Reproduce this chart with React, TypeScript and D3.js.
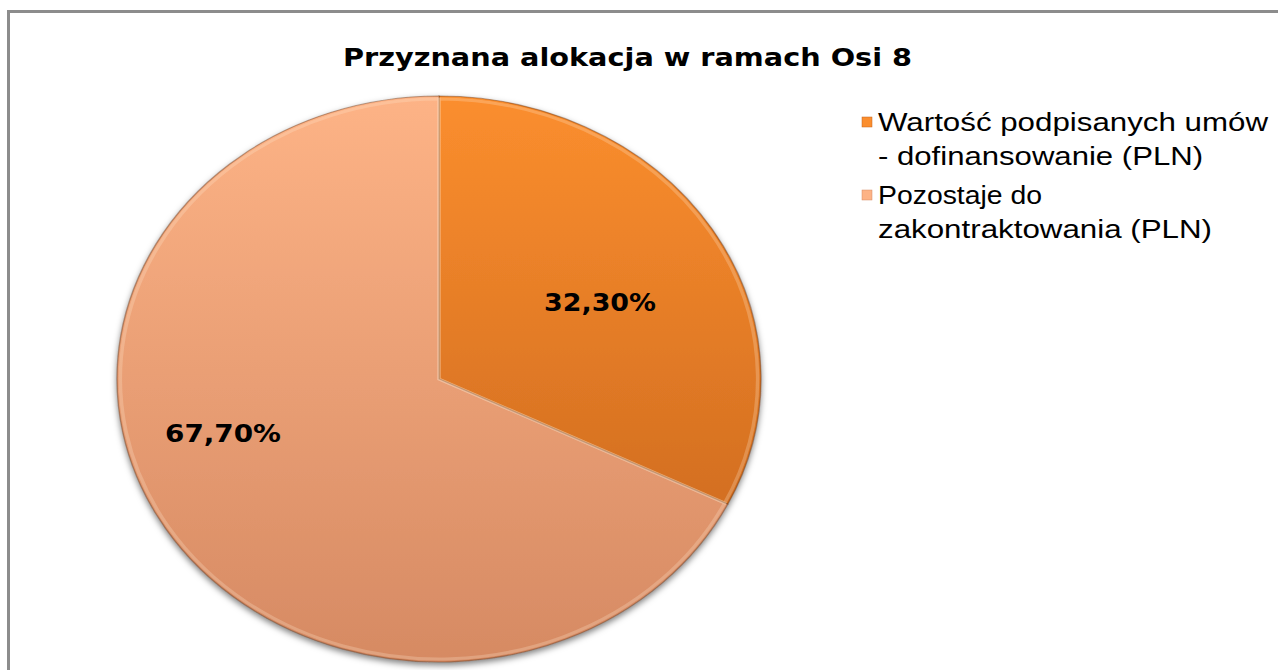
import React, { useEffect, useRef } from 'react';
import * as d3 from 'd3';

const title = 'Przyznana alokacja w ramach Osi 8';
const categories = ['Wartość podpisanych umów - dofinansowanie (PLN)', 'Pozostaje do zakontraktowania (PLN)'];
const legendLines = [['Wartość podpisanych umów', '- dofinansowanie (PLN)'], ['Pozostaje do', 'zakontraktowania (PLN)']];
const values = [32.3, 67.7];
const labels = ['32,30%', '67,70%'];
const colorsTop = ['#fb8e2e', '#fdb386'];
const colorsBottom = ['#c4631c', '#d68a63'];

export default function App() {
  const ref = useRef<SVGSVGElement>(null);

  useEffect(() => {
    const svg = d3.select(ref.current);
    svg.selectAll('*').remove();
    const W = 1278, H = 670;

    // frame (continues past right/bottom edge)
    svg.append('rect').attr('x', 8.5).attr('y', 11.5).attr('width', W + 20).attr('height', H + 20)
      .attr('fill', '#fff').attr('stroke', '#8c8c8c').attr('stroke-width', 3);

    const defs = svg.append('defs');
    values.forEach((_, i) => {
      const gr = defs.append('linearGradient').attr('id', `grad${i}`)
        .attr('gradientUnits', 'userSpaceOnUse').attr('x1', 0).attr('y1', -283).attr('x2', 0).attr('y2', 283);
      gr.append('stop').attr('offset', '0%').attr('stop-color', colorsTop[i]);
      gr.append('stop').attr('offset', '100%').attr('stop-color', colorsBottom[i]);
    });
    const f = defs.append('filter').attr('id', 'shadow').attr('x', '-10%').attr('y', '-10%').attr('width', '120%').attr('height', '120%');
    f.append('feDropShadow').attr('dx', 0).attr('dy', 3).attr('stdDeviation', 3).attr('flood-color', '#000').attr('flood-opacity', 0.5);

    // stretched text helper (the source image is widened horizontally)
    const stretch = (sel: any, w: number) => sel.attr('textLength', w).attr('lengthAdjust', 'spacingAndGlyphs');

    stretch(svg.append('text').attr('x', 343).attr('y', 66)
      .attr('font-family', 'DejaVu Sans').attr('font-weight', 'bold').attr('font-size', 25).attr('fill', '#000').text(title), 569);

    const cx = 439, cy = 379, rx = 322, ry = 283;
    const pie = d3.pie<number>().sort(null).value(d => d);
    const arcs = pie(values);
    const arc = d3.arc<d3.PieArcDatum<number>>().innerRadius(0).outerRadius(ry);

    const g = svg.append('g').attr('transform', `translate(${cx},${cy}) scale(${rx / ry},1)`);
    const slices = g.append('g').attr('filter', 'url(#shadow)');
    slices.selectAll('path').data(arcs).enter().append('path')
      .attr('d', arc).attr('fill', (d, i) => `url(#grad${i})`)
      .attr('stroke', 'rgba(90,40,10,0.4)').attr('stroke-width', 1.2);
    // soft bevel highlight along the edges
    g.append('g').selectAll('path').data(arcs).enter().append('path')
      .attr('d', d3.arc<d3.PieArcDatum<number>>().innerRadius(0).outerRadius(ry - 3))
      .attr('fill', 'none').attr('stroke', 'rgba(255,235,210,0.25)').attr('stroke-width', 3);

    // labels
    const lblPos = [[544, 311, 112], [165, 442, 116]];
    labels.forEach((t, i) => {
      stretch(svg.append('text').attr('x', lblPos[i][0]).attr('y', lblPos[i][1])
        .attr('font-family', 'DejaVu Sans').attr('font-weight', 'bold').attr('font-size', 24).attr('fill', '#000').text(t), lblPos[i][2]);
    });

    // legend
    const lineW = [[390, 325], [164, 334]];
    const lg = svg.append('g');
    legendLines.forEach((lines, i) => {
      const y0 = 122 + i * 73;
      lg.append('rect').attr('x', 862).attr('y', y0 - 5).attr('width', 10).attr('height', 10)
        .attr('stroke', colorsBottom[i]).attr('stroke-width', 0.5)
        .style('fill', colorsTop[i]);
      lines.forEach((ln, j) => {
        stretch(lg.append('text').attr('x', 878).attr('y', y0 + 9 + j * 34)
          .attr('font-family', 'Liberation Sans').attr('font-size', 25).attr('fill', '#000').text(ln), lineW[i][j]);
      });
    });
  }, []);

  return <svg ref={ref} width={1278} height={670} style={{ position: 'absolute', left: 0, top: 0, display: 'block' }} />;
}
